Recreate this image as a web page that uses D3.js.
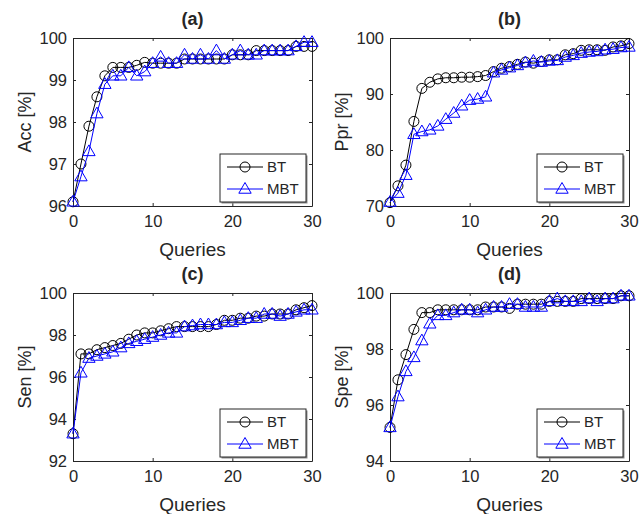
<!DOCTYPE html>
<html>
<head>
<meta charset="utf-8">
<script src="https://cdn.jsdelivr.net/npm/d3@7"></script>
<style>
  body { margin: 0; background: #fff; }
  text { font-family: "Liberation Sans", Arial, sans-serif; fill: #262626; }
</style>
</head>
<body>
<script>
var queries = d3.range(0, 31);
var xTicks = [0, 10, 20, 30];

// (a) accuracy
var accBT  = [96.1, 97.0, 97.9, 98.6, 99.1, 99.3, 99.3, 99.3, 99.35, 99.42, 99.4, 99.4, 99.4, 99.4, 99.5,
              99.5, 99.5, 99.5, 99.5, 99.5, 99.6, 99.6, 99.6, 99.7, 99.7, 99.7, 99.7, 99.7, 99.8, 99.8, 99.8];
var accMBT = [96.1, 96.7, 97.3, 98.2, 98.9, 99.1, 99.1, 99.3, 99.1, 99.2, 99.4, 99.55, 99.4, 99.4, 99.6,
              99.5, 99.6, 99.5, 99.7, 99.5, 99.6, 99.7, 99.6, 99.6, 99.7, 99.7, 99.7, 99.7, 99.8, 99.9, 99.9];
var accTicks = [96, 97, 98, 99, 100];

// (b) precision
var pprBT  = [70.6, 73.6, 77.3, 85.1, 91.0, 92.1, 92.7, 92.9, 92.9, 93.0, 93.0, 93.1, 93.3, 94.0, 94.6,
              94.9, 95.3, 95.7, 95.5, 95.8, 96.1, 96.1, 97.0, 97.2, 97.8, 97.9, 97.9, 97.8, 98.4, 98.6, 99.0];
var pprMBT = [70.7, 72.3, 75.5, 82.8, 83.3, 83.6, 84.3, 85.5, 86.6, 87.9, 88.9, 89.1, 89.5, 93.8, 94.3,
              94.7, 95.1, 95.6, 95.9, 95.7, 95.9, 96.0, 96.6, 96.9, 97.3, 97.5, 97.6, 97.9, 98.0, 98.3, 98.4];
var pprTicks = [70, 80, 90, 100];

// (c) sensitivity
var senBT  = [93.3, 97.1, 97.1, 97.3, 97.4, 97.5, 97.6, 97.8, 98.0, 98.1, 98.1, 98.2, 98.3, 98.4, 98.4,
              98.4, 98.4, 98.4, 98.5, 98.7, 98.7, 98.8, 98.8, 98.9, 98.9, 99.0, 99.0, 99.0, 99.2, 99.3, 99.4];
var senMBT = [93.3, 96.2, 96.9, 97.0, 97.1, 97.2, 97.4, 97.6, 97.7, 97.8, 97.9, 98.0, 98.1, 98.1, 98.4,
              98.45, 98.5, 98.5, 98.5, 98.6, 98.6, 98.7, 98.8, 98.8, 99.0, 99.0, 98.9, 99.0, 99.1, 99.2, 99.2];
var senTicks = [92, 94, 96, 98, 100];

// (d) specificity
var speBT  = [95.2, 96.9, 97.8, 98.7, 99.3, 99.3, 99.4, 99.4, 99.4, 99.4, 99.4, 99.4, 99.5, 99.5, 99.5,
              99.45, 99.6, 99.6, 99.6, 99.6, 99.7, 99.7, 99.7, 99.7, 99.8, 99.8, 99.8, 99.8, 99.8, 99.9, 99.9];
var speMBT = [95.2, 96.3, 97.2, 97.7, 98.3, 98.9, 99.2, 99.2, 99.3, 99.4, 99.4, 99.3, 99.4, 99.5, 99.5,
              99.6, 99.6, 99.5, 99.5, 99.5, 99.7, 99.8, 99.7, 99.7, 99.7, 99.8, 99.7, 99.8, 99.8, 99.9, 99.9];
var speTicks = [94, 96, 98, 100];

var panels = [
  {title: "(a)", ylabel: "Acc [%]", bt: accBT, mbt: accMBT, ticks: accTicks, left: 73,  top: 38},
  {title: "(b)", ylabel: "Ppr [%]", bt: pprBT, mbt: pprMBT, ticks: pprTicks, left: 390, top: 38},
  {title: "(c)", ylabel: "Sen [%]", bt: senBT, mbt: senMBT, ticks: senTicks, left: 73,  top: 293},
  {title: "(d)", ylabel: "Spe [%]", bt: speBT, mbt: speMBT, ticks: speTicks, left: 390, top: 293}
];

var width = 239, height = 168;
var axisColor = "#262626";

var svg = d3.select("body").append("svg")
    .attr("width", 639)
    .attr("height", 514);

// triangle marker pointing up
function triangle(s) {
  return "M0," + (-s) + "L" + (s * 0.95) + "," + (s * 0.65) + "L" + (-s * 0.95) + "," + (s * 0.65) + "Z";
}

panels.forEach(function(p) {
  var g = svg.append("g")
      .attr("transform", "translate(" + p.left + "," + p.top + ")");

  var x = d3.scaleLinear().domain([0, 30]).range([0, width]);
  var y = d3.scaleLinear().domain(d3.extent(p.ticks)).range([height, 0]);
  var fmt = d3.format("d");

  // axes, ticks point inward on all four sides
  var axes = [
    g.append("g").attr("transform", "translate(0," + height + ")")
      .call(d3.axisBottom(x).tickValues(xTicks).tickFormat(fmt).tickSizeInner(-3).tickSizeOuter(0).tickPadding(9)),
    g.append("g")
      .call(d3.axisTop(x).tickValues(xTicks).tickSizeInner(-3).tickSizeOuter(0).tickFormat("")),
    g.append("g")
      .call(d3.axisLeft(y).tickValues(p.ticks).tickFormat(fmt).tickSizeInner(-3).tickSizeOuter(0).tickPadding(6)),
    g.append("g").attr("transform", "translate(" + width + ",0)")
      .call(d3.axisRight(y).tickValues(p.ticks).tickSizeInner(-3).tickSizeOuter(0).tickFormat(""))
  ];
  axes.forEach(function(a) {
    a.select(".domain").attr("stroke", axisColor).attr("stroke-width", 1);
    a.selectAll(".tick line").attr("stroke", axisColor);
    a.selectAll(".tick text")
      .style("font-size", "16.5px")
      .style("font-family", "Liberation Sans, Arial, sans-serif")
      .attr("fill", axisColor);
  });

  var line = d3.line()
      .x(function(d, i) { return x(queries[i]); })
      .y(function(d) { return y(d); });

  // BT series
  g.append("path")
      .attr("d", line(p.bt))
      .attr("fill", "none")
      .attr("stroke", "#000")
      .attr("stroke-width", 1);
  g.selectAll(".bt")
    .data(p.bt)
    .enter().append("circle")
      .attr("class", "bt")
      .attr("cx", function(d, i) { return x(queries[i]); })
      .attr("cy", function(d) { return y(d); })
      .attr("r", 5)
      .attr("fill", "none")
      .attr("stroke", "#000")
      .attr("stroke-width", 1);

  // MBT series
  g.append("path")
      .attr("d", line(p.mbt))
      .attr("fill", "none")
      .attr("stroke", "#0000ff")
      .attr("stroke-width", 1);
  g.selectAll(".mbt")
    .data(p.mbt)
    .enter().append("path")
      .attr("class", "mbt")
      .attr("transform", function(d, i) { return "translate(" + x(queries[i]) + "," + y(d) + ")"; })
      .attr("d", triangle(6.5))
      .attr("fill", "none")
      .attr("stroke", "#0000ff")
      .attr("stroke-width", 1);

  // title and labels
  g.append("text")
      .attr("x", width / 2)
      .attr("y", -13)
      .attr("text-anchor", "middle")
      .style("font-size", "18px")
      .style("font-weight", "bold")
      .text(p.title);

  g.append("text")
      .attr("x", width / 2)
      .attr("y", height + 50)
      .attr("text-anchor", "middle")
      .style("font-size", "19px")
      .text("Queries");

  g.append("text")
      .attr("transform", "rotate(-90)")
      .attr("x", -height / 2)
      .attr("y", -42)
      .attr("text-anchor", "middle")
      .style("font-size", "18px")
      .text(p.ylabel);

  // legend
  var lg = g.append("g")
      .attr("transform", "translate(" + (width - 92) + "," + (height - 52) + ")");
  lg.append("rect")
      .attr("x", 1.5).attr("y", 1.5)
      .attr("width", 86).attr("height", 48)
      .attr("fill", "#8c8c8c");
  lg.append("rect")
      .attr("width", 86).attr("height", 48)
      .attr("fill", "#fff")
      .attr("stroke", axisColor)
      .attr("stroke-width", 1);

  var rows = [
    {name: "BT", color: "#000", mark: "circle"},
    {name: "MBT", color: "#0000ff", mark: "tri"}
  ];
  rows.forEach(function(r, i) {
    var yy = 13 + i * 22;
    lg.append("line")
        .attr("x1", 7).attr("x2", 43)
        .attr("y1", yy).attr("y2", yy)
        .attr("stroke", r.color);
    if (r.mark === "circle") {
      lg.append("circle").attr("cx", 25).attr("cy", yy).attr("r", 5)
          .attr("fill", "none").attr("stroke", r.color);
    } else {
      lg.append("path").attr("transform", "translate(25," + yy + ")")
          .attr("d", triangle(6.5))
          .attr("fill", "none").attr("stroke", r.color);
    }
    lg.append("text")
        .attr("x", 47).attr("y", yy)
        .attr("dy", "0.36em")
        .style("font-size", "15px")
        .text(r.name);
  });
});
</script>
</body>
</html>
